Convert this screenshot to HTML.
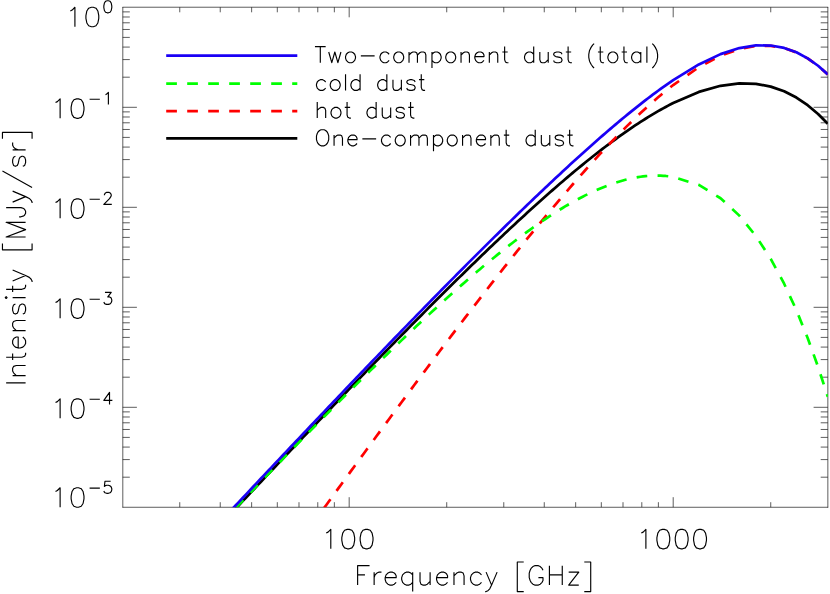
<!DOCTYPE html>
<html><head><meta charset="utf-8"><title>Dust SED</title>
<style>html,body{margin:0;padding:0;background:#fff;font-family:"Liberation Sans",sans-serif}svg{display:block}</style></head>
<body>
<svg width="830" height="594" viewBox="0 0 830 594">
<rect width="830" height="594" fill="#fff"/>
<defs><clipPath id="c"><rect x="122.70" y="7.30" width="705.10" height="499.90"/></clipPath></defs>
<path d="M122.81 7.00 V507.55 M827.85 7.00 V507.55 M122.50 7.23 H828.15 M122.50 507.28 H828.15 M179.76 507.20 v-5.00 M179.76 7.30 v5.00 M220.24 507.20 v-5.00 M220.24 7.30 v5.00 M251.64 507.20 v-5.00 M251.64 7.30 v5.00 M277.30 507.20 v-5.00 M277.30 7.30 v5.00 M298.99 507.20 v-5.00 M298.99 7.30 v5.00 M317.78 507.20 v-5.00 M317.78 7.30 v5.00 M334.35 507.20 v-5.00 M334.35 7.30 v5.00 M349.18 507.20 v-10.00 M349.18 7.30 v10.00 M446.72 507.20 v-5.00 M446.72 7.30 v5.00 M503.78 507.20 v-5.00 M503.78 7.30 v5.00 M544.26 507.20 v-5.00 M544.26 7.30 v5.00 M575.66 507.20 v-5.00 M575.66 7.30 v5.00 M601.32 507.20 v-5.00 M601.32 7.30 v5.00 M623.01 507.20 v-5.00 M623.01 7.30 v5.00 M641.80 507.20 v-5.00 M641.80 7.30 v5.00 M658.38 507.20 v-5.00 M658.38 7.30 v5.00 M673.20 507.20 v-10.00 M673.20 7.30 v10.00 M770.74 507.20 v-5.00 M770.74 7.30 v5.00 M122.70 477.20 h7.10 M827.80 477.20 h-7.10 M122.70 459.59 h7.10 M827.80 459.59 h-7.10 M122.70 447.09 h7.10 M827.80 447.09 h-7.10 M122.70 437.40 h7.10 M827.80 437.40 h-7.10 M122.70 429.48 h7.10 M827.80 429.48 h-7.10 M122.70 422.79 h7.10 M827.80 422.79 h-7.10 M122.70 416.99 h7.10 M827.80 416.99 h-7.10 M122.70 411.88 h7.10 M827.80 411.88 h-7.10 M122.70 407.30 h14.20 M827.80 407.30 h-14.20 M122.70 377.20 h7.10 M827.80 377.20 h-7.10 M122.70 359.59 h7.10 M827.80 359.59 h-7.10 M122.70 347.09 h7.10 M827.80 347.09 h-7.10 M122.70 337.40 h7.10 M827.80 337.40 h-7.10 M122.70 329.48 h7.10 M827.80 329.48 h-7.10 M122.70 322.79 h7.10 M827.80 322.79 h-7.10 M122.70 316.99 h7.10 M827.80 316.99 h-7.10 M122.70 311.88 h7.10 M827.80 311.88 h-7.10 M122.70 307.30 h14.20 M827.80 307.30 h-14.20 M122.70 277.20 h7.10 M827.80 277.20 h-7.10 M122.70 259.59 h7.10 M827.80 259.59 h-7.10 M122.70 247.09 h7.10 M827.80 247.09 h-7.10 M122.70 237.40 h7.10 M827.80 237.40 h-7.10 M122.70 229.48 h7.10 M827.80 229.48 h-7.10 M122.70 222.79 h7.10 M827.80 222.79 h-7.10 M122.70 216.99 h7.10 M827.80 216.99 h-7.10 M122.70 211.88 h7.10 M827.80 211.88 h-7.10 M122.70 207.30 h14.20 M827.80 207.30 h-14.20 M122.70 177.20 h7.10 M827.80 177.20 h-7.10 M122.70 159.59 h7.10 M827.80 159.59 h-7.10 M122.70 147.09 h7.10 M827.80 147.09 h-7.10 M122.70 137.40 h7.10 M827.80 137.40 h-7.10 M122.70 129.48 h7.10 M827.80 129.48 h-7.10 M122.70 122.79 h7.10 M827.80 122.79 h-7.10 M122.70 116.99 h7.10 M827.80 116.99 h-7.10 M122.70 111.88 h7.10 M827.80 111.88 h-7.10 M122.70 107.30 h14.20 M827.80 107.30 h-14.20 M122.70 77.20 h7.10 M827.80 77.20 h-7.10 M122.70 59.59 h7.10 M827.80 59.59 h-7.10 M122.70 47.09 h7.10 M827.80 47.09 h-7.10 M122.70 37.40 h7.10 M827.80 37.40 h-7.10 M122.70 29.48 h7.10 M827.80 29.48 h-7.10 M122.70 22.79 h7.10 M827.80 22.79 h-7.10 M122.70 16.99 h7.10 M827.80 16.99 h-7.10 M122.70 11.88 h7.10 M827.80 11.88 h-7.10" fill="none" stroke="#000" stroke-width="0.64"/>
<g clip-path="url(#c)" fill="none" stroke-linejoin="round">
<path d="M122.70 629.36 L125.21 626.67 L127.73 623.97 L130.24 621.27 L132.75 618.57 L135.27 615.88 L137.78 613.18 L140.30 610.48 L142.81 607.79 L145.32 605.09 L147.84 602.40 L150.35 599.70 L152.86 597.01 L155.38 594.32 L157.89 591.62 L160.41 588.93 L162.92 586.24 L165.43 583.55 L167.95 580.86 L170.46 578.17 L172.97 575.48 L175.49 572.79 L178.00 570.10 L180.52 567.41 L183.03 564.72 L185.54 562.03 L188.06 559.35 L190.57 556.66 L193.08 553.98 L195.60 551.29 L198.11 548.61 L200.63 545.93 L203.14 543.24 L205.65 540.56 L208.17 537.88 L210.68 535.20 L213.19 532.52 L215.71 529.84 L218.22 527.16 L220.73 524.48 L223.25 521.81 L225.76 519.13 L228.28 516.46 L230.79 513.78 L233.30 511.11 L235.82 508.44 L238.33 505.76 L240.84 503.09 L243.36 500.42 L245.87 497.75 L248.39 495.08 L250.90 492.42 L253.41 489.75 L255.93 487.09 L258.44 484.42 L260.95 481.76 L263.47 479.10 L265.98 476.43 L268.50 473.77 L271.01 471.12 L273.52 468.46 L276.04 465.80 L278.55 463.14 L281.06 460.49 L283.58 457.84 L286.09 455.18 L288.60 452.53 L291.12 449.88 L293.63 447.24 L296.15 444.59 L298.66 441.94 L301.17 439.30 L303.69 436.66 L306.20 434.02 L308.71 431.38 L311.23 428.74 L313.74 426.10 L316.26 423.46 L318.77 420.83 L321.28 418.20 L323.80 415.57 L326.31 412.94 L328.82 410.31 L331.34 407.69 L333.85 405.06 L336.37 402.44 L338.88 399.82 L341.39 397.20 L343.91 394.59 L346.42 391.97 L348.93 389.36 L351.45 386.75 L353.96 384.14 L356.48 381.54 L358.99 378.93 L361.50 376.33 L364.02 373.73 L366.53 371.13 L369.04 368.54 L371.56 365.94 L374.07 363.35 L376.58 360.77 L379.10 358.18 L381.61 355.60 L384.13 353.02 L386.64 350.44 L389.15 347.87 L391.67 345.29 L394.18 342.72 L396.69 340.16 L399.21 337.59 L401.72 335.03 L404.24 332.48 L406.75 329.92 L409.26 327.37 L411.78 324.82 L414.29 322.28 L416.80 319.74 L419.32 317.20 L421.83 314.66 L424.35 312.13 L426.86 309.61 L429.37 307.08 L431.89 304.56 L434.40 302.05 L436.91 299.54 L439.43 297.03 L441.94 294.52 L444.45 292.03 L446.97 289.53 L449.48 287.04 L452.00 284.55 L454.51 282.07 L457.02 279.59 L459.54 277.12 L462.05 274.65 L464.56 272.19 L467.08 269.73 L469.59 267.28 L472.11 264.83 L474.62 262.39 L477.13 259.96 L479.65 257.53 L482.16 255.10 L484.67 252.68 L487.19 250.27 L489.70 247.86 L492.22 245.46 L494.73 243.07 L497.24 240.68 L499.76 238.30 L502.27 235.92 L504.78 233.56 L507.30 231.20 L509.81 228.84 L512.33 226.50 L514.84 224.16 L517.35 221.83 L519.87 219.51 L522.38 217.19 L524.89 214.89 L527.41 212.59 L529.92 210.30 L532.43 208.02 L534.95 205.75 L537.46 203.49 L539.98 201.23 L542.49 198.99 L545.00 196.76 L547.52 194.53 L550.03 192.32 L552.54 190.12 L555.06 187.93 L557.57 185.74 L560.09 183.57 L562.60 181.42 L565.11 179.27 L567.63 177.14 L570.14 175.01 L572.65 172.90 L575.17 170.81 L577.68 168.72 L580.20 166.65 L582.71 164.60 L585.22 162.55 L587.74 160.53 L590.25 158.51 L592.76 156.52 L595.28 154.53 L597.79 152.57 L600.30 150.61 L602.82 148.68 L605.33 146.76 L607.85 144.86 L610.36 142.98 L612.87 141.11 L615.39 139.27 L617.90 137.44 L620.41 135.63 L622.93 133.84 L625.44 132.08 L627.96 130.33 L630.47 128.60 L632.98 126.90 L635.50 125.22 L638.01 123.56 L640.52 121.92 L643.04 120.31 L645.55 118.72 L648.07 117.16 L650.58 115.62 L653.09 114.11 L655.61 112.62 L658.12 111.16 L660.63 109.73 L663.15 108.33 L665.66 106.96 L668.18 105.62 L670.69 104.31 L673.20 103.03 L698.86 91.92 L720.55 85.77 L739.34 83.33 L755.92 83.80 L770.74 86.59 L784.15 91.29 L796.40 97.58 L807.66 105.21 L818.09 113.98 L827.80 123.76" stroke="#000" stroke-width="2.75"/>
<path d="M122.70 789.80 L125.21 786.25 L127.73 782.71 L130.24 779.16 L132.75 775.62 L135.27 772.07 L137.78 768.53 L140.30 764.99 L142.81 761.45 L145.32 757.90 L147.84 754.36 L150.35 750.82 L152.86 747.28 L155.38 743.74 L157.89 740.20 L160.41 736.66 L162.92 733.12 L165.43 729.59 L167.95 726.05 L170.46 722.51 L172.97 718.98 L175.49 715.44 L178.00 711.91 L180.52 708.37 L183.03 704.84 L185.54 701.31 L188.06 697.77 L190.57 694.24 L193.08 690.71 L195.60 687.18 L198.11 683.65 L200.63 680.12 L203.14 676.60 L205.65 673.07 L208.17 669.54 L210.68 666.02 L213.19 662.49 L215.71 658.97 L218.22 655.44 L220.73 651.92 L223.25 648.40 L225.76 644.88 L228.28 641.36 L230.79 637.84 L233.30 634.32 L235.82 630.80 L238.33 627.29 L240.84 623.77 L243.36 620.26 L245.87 616.74 L248.39 613.23 L250.90 609.72 L253.41 606.21 L255.93 602.70 L258.44 599.19 L260.95 595.69 L263.47 592.18 L265.98 588.68 L268.50 585.17 L271.01 581.67 L273.52 578.17 L276.04 574.67 L278.55 571.17 L281.06 567.67 L283.58 564.18 L286.09 560.68 L288.60 557.19 L291.12 553.70 L293.63 550.21 L296.15 546.72 L298.66 543.23 L301.17 539.75 L303.69 536.26 L306.20 532.78 L308.71 529.30 L311.23 525.82 L313.74 522.34 L316.26 518.86 L318.77 515.39 L321.28 511.92 L323.80 508.45 L326.31 504.98 L328.82 501.51 L331.34 498.04 L333.85 494.58 L336.37 491.12 L338.88 487.66 L341.39 484.20 L343.91 480.75 L346.42 477.29 L348.93 473.84 L351.45 470.39 L353.96 466.95 L356.48 463.50 L358.99 460.06 L361.50 456.62 L364.02 453.19 L366.53 449.75 L369.04 446.32 L371.56 442.89 L374.07 439.46 L376.58 436.04 L379.10 432.62 L381.61 429.20 L384.13 425.78 L386.64 422.37 L389.15 418.96 L391.67 415.56 L394.18 412.15 L396.69 408.75 L399.21 405.36 L401.72 401.96 L404.24 398.57 L406.75 395.18 L409.26 391.80 L411.78 388.42 L414.29 385.04 L416.80 381.67 L419.32 378.30 L421.83 374.94 L424.35 371.58 L426.86 368.22 L429.37 364.87 L431.89 361.52 L434.40 358.18 L436.91 354.84 L439.43 351.50 L441.94 348.17 L444.45 344.84 L446.97 341.52 L449.48 338.20 L452.00 334.89 L454.51 331.59 L457.02 328.28 L459.54 324.99 L462.05 321.70 L464.56 318.41 L467.08 315.13 L469.59 311.86 L472.11 308.59 L474.62 305.33 L477.13 302.07 L479.65 298.82 L482.16 295.58 L484.67 292.34 L487.19 289.11 L489.70 285.89 L492.22 282.67 L494.73 279.46 L497.24 276.26 L499.76 273.06 L502.27 269.88 L504.78 266.70 L507.30 263.53 L509.81 260.36 L512.33 257.21 L514.84 254.06 L517.35 250.92 L519.87 247.79 L522.38 244.67 L524.89 241.56 L527.41 238.46 L529.92 235.37 L532.43 232.28 L534.95 229.21 L537.46 226.15 L539.98 223.10 L542.49 220.05 L545.00 217.02 L547.52 214.01 L550.03 211.00 L552.54 208.00 L555.06 205.02 L557.57 202.05 L560.09 199.09 L562.60 196.14 L565.11 193.21 L567.63 190.29 L570.14 187.38 L572.65 184.49 L575.17 181.61 L577.68 178.75 L580.20 175.90 L582.71 173.07 L585.22 170.25 L587.74 167.45 L590.25 164.67 L592.76 161.90 L595.28 159.15 L597.79 156.42 L600.30 153.70 L602.82 151.01 L605.33 148.33 L607.85 145.67 L610.36 143.04 L612.87 140.42 L615.39 137.82 L617.90 135.25 L620.41 132.69 L622.93 130.16 L625.44 127.65 L627.96 125.16 L630.47 122.70 L632.98 120.26 L635.50 117.85 L638.01 115.46 L640.52 113.10 L643.04 110.77 L645.55 108.46 L648.07 106.18 L650.58 103.93 L653.09 101.71 L655.61 99.51 L658.12 97.35 L660.63 95.22 L663.15 93.12 L665.66 91.06 L668.18 89.02 L670.69 87.03 L673.20 85.06 L698.86 67.22 L720.55 55.73 L739.34 49.00 L755.92 45.95 L770.74 45.85 L784.15 48.14 L796.40 52.43 L807.66 58.40 L818.09 65.80 L827.80 74.45" stroke="#f00" stroke-width="2.7" stroke-dasharray="10.7 10.3" stroke-dashoffset="10.5"/>
<path d="M122.70 627.30 L125.21 624.62 L127.73 621.95 L130.24 619.27 L132.75 616.59 L135.27 613.92 L137.78 611.24 L140.30 608.57 L142.81 605.90 L145.32 603.23 L147.84 600.55 L150.35 597.88 L152.86 595.22 L155.38 592.55 L157.89 589.88 L160.41 587.21 L162.92 584.55 L165.43 581.88 L167.95 579.22 L170.46 576.56 L172.97 573.89 L175.49 571.23 L178.00 568.57 L180.52 565.91 L183.03 563.26 L185.54 560.60 L188.06 557.95 L190.57 555.29 L193.08 552.64 L195.60 549.99 L198.11 547.34 L200.63 544.69 L203.14 542.04 L205.65 539.39 L208.17 536.75 L210.68 534.10 L213.19 531.46 L215.71 528.82 L218.22 526.18 L220.73 523.54 L223.25 520.91 L225.76 518.27 L228.28 515.64 L230.79 513.00 L233.30 510.37 L235.82 507.74 L238.33 505.12 L240.84 502.49 L243.36 499.87 L245.87 497.25 L248.39 494.63 L250.90 492.01 L253.41 489.39 L255.93 486.78 L258.44 484.16 L260.95 481.55 L263.47 478.94 L265.98 476.34 L268.50 473.73 L271.01 471.13 L273.52 468.53 L276.04 465.93 L278.55 463.34 L281.06 460.74 L283.58 458.15 L286.09 455.56 L288.60 452.98 L291.12 450.39 L293.63 447.81 L296.15 445.23 L298.66 442.66 L301.17 440.08 L303.69 437.51 L306.20 434.95 L308.71 432.38 L311.23 429.82 L313.74 427.26 L316.26 424.70 L318.77 422.15 L321.28 419.60 L323.80 417.06 L326.31 414.51 L328.82 411.97 L331.34 409.44 L333.85 406.90 L336.37 404.37 L338.88 401.85 L341.39 399.33 L343.91 396.81 L346.42 394.29 L348.93 391.78 L351.45 389.28 L353.96 386.78 L356.48 384.28 L358.99 381.78 L361.50 379.29 L364.02 376.81 L366.53 374.33 L369.04 371.85 L371.56 369.38 L374.07 366.92 L376.58 364.46 L379.10 362.00 L381.61 359.55 L384.13 357.10 L386.64 354.66 L389.15 352.23 L391.67 349.80 L394.18 347.38 L396.69 344.96 L399.21 342.55 L401.72 340.14 L404.24 337.74 L406.75 335.35 L409.26 332.96 L411.78 330.58 L414.29 328.21 L416.80 325.85 L419.32 323.49 L421.83 321.14 L424.35 318.79 L426.86 316.45 L429.37 314.13 L431.89 311.80 L434.40 309.49 L436.91 307.19 L439.43 304.89 L441.94 302.60 L444.45 300.32 L446.97 298.05 L449.48 295.79 L452.00 293.54 L454.51 291.30 L457.02 289.07 L459.54 286.85 L462.05 284.63 L464.56 282.43 L467.08 280.24 L469.59 278.06 L472.11 275.90 L474.62 273.74 L477.13 271.59 L479.65 269.46 L482.16 267.34 L484.67 265.23 L487.19 263.14 L489.70 261.05 L492.22 258.99 L494.73 256.93 L497.24 254.89 L499.76 252.86 L502.27 250.85 L504.78 248.85 L507.30 246.87 L509.81 244.91 L512.33 242.96 L514.84 241.02 L517.35 239.11 L519.87 237.21 L522.38 235.33 L524.89 233.46 L527.41 231.62 L529.92 229.79 L532.43 227.98 L534.95 226.20 L537.46 224.43 L539.98 222.69 L542.49 220.96 L545.00 219.26 L547.52 217.58 L550.03 215.92 L552.54 214.28 L555.06 212.67 L557.57 211.08 L560.09 209.52 L562.60 207.99 L565.11 206.47 L567.63 204.99 L570.14 203.53 L572.65 202.11 L575.17 200.71 L577.68 199.33 L580.20 197.99 L582.71 196.68 L585.22 195.40 L587.74 194.16 L590.25 192.94 L592.76 191.76 L595.28 190.61 L597.79 189.50 L600.30 188.42 L602.82 187.38 L605.33 186.38 L607.85 185.42 L610.36 184.49 L612.87 183.61 L615.39 182.76 L617.90 181.96 L620.41 181.20 L622.93 180.48 L625.44 179.81 L627.96 179.19 L630.47 178.61 L632.98 178.08 L635.50 177.59 L638.01 177.16 L640.52 176.77 L643.04 176.44 L645.55 176.16 L648.07 175.94 L650.58 175.77 L653.09 175.66 L655.61 175.60 L658.12 175.60 L660.63 175.66 L663.15 175.79 L665.66 175.97 L668.18 176.22 L670.69 176.54 L673.20 176.92 L698.86 184.90 L720.55 198.27 L739.34 215.63 L755.92 236.05 L770.74 258.90 L784.15 283.72 L796.40 310.15 L807.66 337.95 L818.09 366.91 L827.80 396.87" stroke="#0f0" stroke-width="2.7" stroke-dasharray="10.7 10.3" stroke-dashoffset="3.4"/>
<path d="M122.70 626.28 L125.21 623.59 L127.73 620.89 L130.24 618.19 L132.75 615.49 L135.27 612.80 L137.78 610.10 L140.30 607.40 L142.81 604.71 L145.32 602.01 L147.84 599.31 L150.35 596.62 L152.86 593.92 L155.38 591.23 L157.89 588.54 L160.41 585.84 L162.92 583.15 L165.43 580.46 L167.95 577.77 L170.46 575.07 L172.97 572.38 L175.49 569.69 L178.00 567.00 L180.52 564.31 L183.03 561.62 L185.54 558.93 L188.06 556.24 L190.57 553.56 L193.08 550.87 L195.60 548.18 L198.11 545.49 L200.63 542.81 L203.14 540.12 L205.65 537.44 L208.17 534.75 L210.68 532.07 L213.19 529.39 L215.71 526.70 L218.22 524.02 L220.73 521.34 L223.25 518.66 L225.76 515.98 L228.28 513.30 L230.79 510.62 L233.30 507.94 L235.82 505.26 L238.33 502.59 L240.84 499.91 L243.36 497.23 L245.87 494.56 L248.39 491.88 L250.90 489.21 L253.41 486.54 L255.93 483.87 L258.44 481.19 L260.95 478.52 L263.47 475.85 L265.98 473.19 L268.50 470.52 L271.01 467.85 L273.52 465.18 L276.04 462.52 L278.55 459.85 L281.06 457.19 L283.58 454.53 L286.09 451.86 L288.60 449.20 L291.12 446.54 L293.63 443.88 L296.15 441.23 L298.66 438.57 L301.17 435.91 L303.69 433.26 L306.20 430.60 L308.71 427.95 L311.23 425.30 L313.74 422.65 L316.26 420.00 L318.77 417.35 L321.28 414.70 L323.80 412.06 L326.31 409.41 L328.82 406.77 L331.34 404.13 L333.85 401.49 L336.37 398.85 L338.88 396.21 L341.39 393.57 L343.91 390.94 L346.42 388.30 L348.93 385.67 L351.45 383.04 L353.96 380.41 L356.48 377.78 L358.99 375.16 L361.50 372.53 L364.02 369.91 L366.53 367.28 L369.04 364.66 L371.56 362.05 L374.07 359.43 L376.58 356.81 L379.10 354.20 L381.61 351.59 L384.13 348.98 L386.64 346.37 L389.15 343.77 L391.67 341.16 L394.18 338.56 L396.69 335.96 L399.21 333.36 L401.72 330.77 L404.24 328.18 L406.75 325.58 L409.26 323.00 L411.78 320.41 L414.29 317.82 L416.80 315.24 L419.32 312.66 L421.83 310.09 L424.35 307.51 L426.86 304.94 L429.37 302.37 L431.89 299.80 L434.40 297.24 L436.91 294.68 L439.43 292.12 L441.94 289.56 L444.45 287.01 L446.97 284.46 L449.48 281.91 L452.00 279.37 L454.51 276.83 L457.02 274.29 L459.54 271.76 L462.05 269.22 L464.56 266.70 L467.08 264.17 L469.59 261.65 L472.11 259.13 L474.62 256.62 L477.13 254.11 L479.65 251.60 L482.16 249.10 L484.67 246.60 L487.19 244.11 L489.70 241.62 L492.22 239.13 L494.73 236.65 L497.24 234.17 L499.76 231.70 L502.27 229.23 L504.78 226.76 L507.30 224.30 L509.81 221.85 L512.33 219.40 L514.84 216.95 L517.35 214.51 L519.87 212.08 L522.38 209.64 L524.89 207.22 L527.41 204.80 L529.92 202.39 L532.43 199.98 L534.95 197.57 L537.46 195.18 L539.98 192.79 L542.49 190.40 L545.00 188.02 L547.52 185.65 L550.03 183.29 L552.54 180.93 L555.06 178.57 L557.57 176.23 L560.09 173.89 L562.60 171.56 L565.11 169.23 L567.63 166.92 L570.14 164.61 L572.65 162.31 L575.17 160.02 L577.68 157.73 L580.20 155.46 L582.71 153.19 L585.22 150.93 L587.74 148.68 L590.25 146.44 L592.76 144.21 L595.28 141.99 L597.79 139.78 L600.30 137.58 L602.82 135.39 L605.33 133.21 L607.85 131.05 L610.36 128.89 L612.87 126.75 L615.39 124.62 L617.90 122.50 L620.41 120.40 L622.93 118.30 L625.44 116.23 L627.96 114.16 L630.47 112.12 L632.98 110.08 L635.50 108.07 L638.01 106.07 L640.52 104.08 L643.04 102.12 L645.55 100.17 L648.07 98.24 L650.58 96.33 L653.09 94.44 L655.61 92.57 L658.12 90.72 L660.63 88.89 L663.15 87.09 L665.66 85.31 L668.18 83.55 L670.69 81.82 L673.20 80.12 L698.86 64.42 L720.55 54.13 L739.34 48.07 L755.92 45.41 L770.74 45.53 L784.15 47.95 L796.40 52.31 L807.66 58.33 L818.09 65.76 L827.80 74.42" stroke="#1a00f5" stroke-width="2.7"/>
</g>
<g fill="none">
<path d="M166.2 55.7 H297.3" stroke="#1a00f5" stroke-width="2.7"/>
<path d="M166.2 83.7 H297.3" stroke="#0f0" stroke-width="2.7" stroke-dasharray="10.7 10.3"/>
<path d="M166.2 111.2 H297.3" stroke="#f00" stroke-width="2.7" stroke-dasharray="10.7 10.3"/>
<path d="M166.2 138.4 H297.3" stroke="#000" stroke-width="2.8"/>
</g>
<path d="M320.30 62.70 L320.30 46.61 M314.95 46.61 L325.66 46.61 M328.72 51.98 L331.78 62.70 L334.83 51.98 L337.89 62.70 L340.95 51.98 M345.54 58.10 L346.31 60.40 L347.84 61.93 L349.37 62.70 L351.66 62.70 L353.19 61.93 L354.72 60.40 L355.49 58.10 L355.49 56.57 L354.72 54.27 L353.19 52.74 L351.66 51.98 L349.37 51.98 L347.84 52.74 L346.31 54.27 L345.54 56.57Z M360.84 55.81 L374.61 55.81 M389.14 60.40 L387.61 61.93 L386.08 62.70 L383.79 62.70 L382.26 61.93 L380.73 60.40 L379.96 58.10 L379.96 56.57 L380.73 54.27 L382.26 52.74 L383.79 51.98 L386.08 51.98 L387.61 52.74 L389.14 54.27 M393.73 58.10 L394.49 60.40 L396.02 61.93 L397.55 62.70 L399.85 62.70 L401.38 61.93 L402.91 60.40 L403.67 58.10 L403.67 56.57 L402.91 54.27 L401.38 52.74 L399.85 51.98 L397.55 51.98 L396.02 52.74 L394.49 54.27 L393.73 56.57Z M409.03 62.70 L409.03 51.98 M417.44 62.70 L417.44 55.04 M425.85 62.70 L425.85 55.04 L425.09 52.74 L423.56 51.98 L421.26 51.98 L419.73 52.74 L417.44 55.04 M409.03 55.04 L411.32 52.74 L412.85 51.98 L415.14 51.98 L416.67 52.74 L417.44 55.04 M431.97 68.06 L431.97 51.98 M431.97 60.40 L433.50 61.93 L435.03 62.70 L437.33 62.70 L438.85 61.93 L440.38 60.40 L441.15 58.10 L441.15 56.57 L440.38 54.27 L438.85 52.74 L437.33 51.98 L435.03 51.98 L433.50 52.74 L431.97 54.27 M445.74 58.10 L446.50 60.40 L448.03 61.93 L449.56 62.70 L451.86 62.70 L453.39 61.93 L454.92 60.40 L455.68 58.10 L455.68 56.57 L454.92 54.27 L453.39 52.74 L451.86 51.98 L449.56 51.98 L448.03 52.74 L446.50 54.27 L445.74 56.57Z M461.04 62.70 L461.04 51.98 M469.45 62.70 L469.45 55.04 L468.68 52.74 L467.15 51.98 L464.86 51.98 L463.33 52.74 L461.04 55.04 M483.98 60.40 L482.45 61.93 L480.92 62.70 L478.63 62.70 L477.10 61.93 L475.57 60.40 L474.80 58.10 L474.80 56.57 M474.80 56.57 L483.98 56.57 L483.98 55.04 L483.22 53.51 L482.45 52.74 L480.92 51.98 L478.63 51.98 L477.10 52.74 L475.57 54.27Z M489.33 62.70 L489.33 51.98 M497.75 62.70 L497.75 55.04 L496.98 52.74 L495.45 51.98 L493.16 51.98 L491.63 52.74 L489.33 55.04 M504.63 46.61 L504.63 59.64 L505.40 61.93 L506.93 62.70 L508.46 62.70 M502.34 51.98 L507.69 51.98 M533.70 62.70 L533.70 46.61 M533.70 60.40 L532.17 61.93 L530.64 62.70 L528.34 62.70 L526.81 61.93 L525.28 60.40 L524.52 58.10 L524.52 56.57 L525.28 54.27 L526.81 52.74 L528.34 51.98 L530.64 51.98 L532.17 52.74 L533.70 54.27 M548.23 62.70 L548.23 51.98 M539.82 51.98 L539.82 59.64 L540.58 61.93 L542.11 62.70 L544.40 62.70 L545.93 61.93 L548.23 59.64 M553.58 60.40 L554.35 61.93 L556.64 62.70 L558.94 62.70 L561.23 61.93 L562.00 60.40 L562.00 59.64 L561.23 58.10 L559.70 57.34 L555.88 56.57 L554.35 55.81 L553.58 54.27 L554.35 52.74 L556.64 51.98 L558.94 51.98 L561.23 52.74 L562.00 54.27 M568.11 46.61 L568.11 59.64 L568.88 61.93 L570.41 62.70 L571.94 62.70 M565.82 51.98 L571.17 51.98 M594.12 68.06 L592.59 66.53 L591.06 64.23 L589.53 61.17 L588.77 57.34 L588.77 54.27 L589.53 50.44 L591.06 47.38 L592.59 45.08 L594.12 43.55 M600.24 46.61 L600.24 59.64 L601.00 61.93 L602.53 62.70 L604.06 62.70 M597.94 51.98 L603.30 51.98 M607.89 58.10 L608.65 60.40 L610.18 61.93 L611.71 62.70 L614.01 62.70 L615.54 61.93 L617.06 60.40 L617.83 58.10 L617.83 56.57 L617.06 54.27 L615.54 52.74 L614.01 51.98 L611.71 51.98 L610.18 52.74 L608.65 54.27 L607.89 56.57Z M623.95 46.61 L623.95 59.64 L624.71 61.93 L626.24 62.70 L627.77 62.70 M621.65 51.98 L627.01 51.98 M640.78 62.70 L640.78 51.98 M640.78 60.40 L639.25 61.93 L637.72 62.70 L635.42 62.70 L633.89 61.93 L632.36 60.40 L631.60 58.10 L631.60 56.57 L632.36 54.27 L633.89 52.74 L635.42 51.98 L637.72 51.98 L639.25 52.74 L640.78 54.27 M646.89 62.70 L646.89 46.61 M652.25 68.06 L653.78 66.53 L655.31 64.23 L656.84 61.17 L657.60 57.34 L657.60 54.27 L656.84 50.44 L655.31 47.38 L653.78 45.08 L652.25 43.55 M325.66 88.10 L324.13 89.63 L322.60 90.40 L320.30 90.40 L318.77 89.63 L317.24 88.10 L316.48 85.80 L316.48 84.27 L317.24 81.97 L318.77 80.44 L320.30 79.68 L322.60 79.68 L324.13 80.44 L325.66 81.97 M330.25 85.80 L331.01 88.10 L332.54 89.63 L334.07 90.40 L336.36 90.40 L337.89 89.63 L339.42 88.10 L340.19 85.80 L340.19 84.27 L339.42 81.97 L337.89 80.44 L336.36 79.68 L334.07 79.68 L332.54 80.44 L331.01 81.97 L330.25 84.27Z M345.54 90.40 L345.54 74.31 M360.08 90.40 L360.08 74.31 M360.08 88.10 L358.55 89.63 L357.02 90.40 L354.72 90.40 L353.19 89.63 L351.66 88.10 L350.90 85.80 L350.90 84.27 L351.66 81.97 L353.19 80.44 L354.72 79.68 L357.02 79.68 L358.55 80.44 L360.08 81.97 M386.84 90.40 L386.84 74.31 M386.84 88.10 L385.32 89.63 L383.79 90.40 L381.49 90.40 L379.96 89.63 L378.43 88.10 L377.67 85.80 L377.67 84.27 L378.43 81.97 L379.96 80.44 L381.49 79.68 L383.79 79.68 L385.32 80.44 L386.84 81.97 M401.38 90.40 L401.38 79.68 M392.96 79.68 L392.96 87.34 L393.73 89.63 L395.26 90.40 L397.55 90.40 L399.08 89.63 L401.38 87.34 M406.73 88.10 L407.50 89.63 L409.79 90.40 L412.08 90.40 L414.38 89.63 L415.14 88.10 L415.14 87.34 L414.38 85.80 L412.85 85.04 L409.03 84.27 L407.50 83.51 L406.73 81.97 L407.50 80.44 L409.79 79.68 L412.08 79.68 L414.38 80.44 L415.14 81.97 M421.26 74.31 L421.26 87.34 L422.03 89.63 L423.56 90.40 L425.09 90.40 M418.97 79.68 L424.32 79.68 M317.24 118.10 L317.24 102.01 M325.66 118.10 L325.66 110.44 L324.89 108.14 L323.36 107.38 L321.07 107.38 L319.54 108.14 L317.24 110.44 M331.01 113.50 L331.78 115.80 L333.31 117.33 L334.83 118.10 L337.13 118.10 L338.66 117.33 L340.19 115.80 L340.95 113.50 L340.95 111.97 L340.19 109.67 L338.66 108.14 L337.13 107.38 L334.83 107.38 L333.31 108.14 L331.78 109.67 L331.01 111.97Z M347.07 102.01 L347.07 115.04 L347.84 117.33 L349.37 118.10 L350.90 118.10 M344.78 107.38 L350.13 107.38 M376.14 118.10 L376.14 102.01 M376.14 115.80 L374.61 117.33 L373.08 118.10 L370.78 118.10 L369.25 117.33 L367.72 115.80 L366.96 113.50 L366.96 111.97 L367.72 109.67 L369.25 108.14 L370.78 107.38 L373.08 107.38 L374.61 108.14 L376.14 109.67 M390.67 118.10 L390.67 107.38 M382.26 107.38 L382.26 115.04 L383.02 117.33 L384.55 118.10 L386.84 118.10 L388.37 117.33 L390.67 115.04 M396.02 115.80 L396.79 117.33 L399.08 118.10 L401.38 118.10 L403.67 117.33 L404.44 115.80 L404.44 115.04 L403.67 113.50 L402.14 112.74 L398.32 111.97 L396.79 111.21 L396.02 109.67 L396.79 108.14 L399.08 107.38 L401.38 107.38 L403.67 108.14 L404.44 109.67 M410.56 102.01 L410.56 115.04 L411.32 117.33 L412.85 118.10 L414.38 118.10 M408.26 107.38 L413.61 107.38 M316.48 139.67 L316.48 135.84 L317.24 133.54 L318.01 132.01 L319.54 130.48 L321.07 129.71 L324.13 129.71 L325.66 130.48 L327.19 132.01 L327.95 133.54 L328.72 135.84 L328.72 139.67 L327.95 141.97 L327.19 143.50 L325.66 145.03 L324.13 145.80 L321.07 145.80 L319.54 145.03 L318.01 143.50 L317.24 141.97Z M334.07 145.80 L334.07 135.08 M342.48 145.80 L342.48 138.14 L341.72 135.84 L340.19 135.08 L337.89 135.08 L336.36 135.84 L334.07 138.14 M357.02 143.50 L355.49 145.03 L353.96 145.80 L351.66 145.80 L350.13 145.03 L348.60 143.50 L347.84 141.20 L347.84 139.67 M347.84 139.67 L357.02 139.67 L357.02 138.14 L356.25 136.61 L355.49 135.84 L353.96 135.08 L351.66 135.08 L350.13 135.84 L348.60 137.37Z M362.37 138.91 L376.14 138.91 M390.67 143.50 L389.14 145.03 L387.61 145.80 L385.32 145.80 L383.79 145.03 L382.26 143.50 L381.49 141.20 L381.49 139.67 L382.26 137.37 L383.79 135.84 L385.32 135.08 L387.61 135.08 L389.14 135.84 L390.67 137.37 M395.26 141.20 L396.02 143.50 L397.55 145.03 L399.08 145.80 L401.38 145.80 L402.91 145.03 L404.44 143.50 L405.20 141.20 L405.20 139.67 L404.44 137.37 L402.91 135.84 L401.38 135.08 L399.08 135.08 L397.55 135.84 L396.02 137.37 L395.26 139.67Z M410.56 145.80 L410.56 135.08 M418.97 145.80 L418.97 138.14 M427.38 145.80 L427.38 138.14 L426.62 135.84 L425.09 135.08 L422.79 135.08 L421.26 135.84 L418.97 138.14 M410.56 138.14 L412.85 135.84 L414.38 135.08 L416.67 135.08 L418.20 135.84 L418.97 138.14 M433.50 151.16 L433.50 135.08 M433.50 143.50 L435.03 145.03 L436.56 145.80 L438.85 145.80 L440.38 145.03 L441.91 143.50 L442.68 141.20 L442.68 139.67 L441.91 137.37 L440.38 135.84 L438.85 135.08 L436.56 135.08 L435.03 135.84 L433.50 137.37 M447.27 141.20 L448.03 143.50 L449.56 145.03 L451.09 145.80 L453.39 145.80 L454.92 145.03 L456.45 143.50 L457.21 141.20 L457.21 139.67 L456.45 137.37 L454.92 135.84 L453.39 135.08 L451.09 135.08 L449.56 135.84 L448.03 137.37 L447.27 139.67Z M462.57 145.80 L462.57 135.08 M470.98 145.80 L470.98 138.14 L470.21 135.84 L468.68 135.08 L466.39 135.08 L464.86 135.84 L462.57 138.14 M485.51 143.50 L483.98 145.03 L482.45 145.80 L480.16 145.80 L478.63 145.03 L477.10 143.50 L476.33 141.20 L476.33 139.67 M476.33 139.67 L485.51 139.67 L485.51 138.14 L484.75 136.61 L483.98 135.84 L482.45 135.08 L480.16 135.08 L478.63 135.84 L477.10 137.37Z M490.86 145.80 L490.86 135.08 M499.28 145.80 L499.28 138.14 L498.51 135.84 L496.98 135.08 L494.69 135.08 L493.16 135.84 L490.86 138.14 M506.16 129.71 L506.16 142.74 L506.93 145.03 L508.46 145.80 L509.99 145.80 M503.87 135.08 L509.22 135.08 M535.23 145.80 L535.23 129.71 M535.23 143.50 L533.70 145.03 L532.17 145.80 L529.87 145.80 L528.34 145.03 L526.81 143.50 L526.05 141.20 L526.05 139.67 L526.81 137.37 L528.34 135.84 L529.87 135.08 L532.17 135.08 L533.70 135.84 L535.23 137.37 M549.76 145.80 L549.76 135.08 M541.34 135.08 L541.34 142.74 L542.11 145.03 L543.64 145.80 L545.93 145.80 L547.46 145.03 L549.76 142.74 M555.11 143.50 L555.88 145.03 L558.17 145.80 L560.47 145.80 L562.76 145.03 L563.53 143.50 L563.53 142.74 L562.76 141.20 L561.23 140.44 L557.41 139.67 L555.88 138.91 L555.11 137.37 L555.88 135.84 L558.17 135.08 L560.47 135.08 L562.76 135.84 L563.53 137.37 M569.64 129.71 L569.64 142.74 L570.41 145.03 L571.94 145.80 L573.47 145.80 M567.35 135.08 L572.70 135.08 M330.79 548.80 L330.79 529.35 L328.04 532.13 L326.21 533.06 M341.81 540.47 L342.72 545.10 L344.56 547.87 L347.31 548.80 L349.15 548.80 L351.90 547.87 L353.74 545.10 L354.65 540.47 L354.65 537.69 L353.74 533.06 L351.90 530.28 L349.15 529.35 L347.31 529.35 L344.56 530.28 L342.72 533.06 L341.81 537.69Z M360.16 540.47 L361.08 545.10 L362.91 547.87 L365.67 548.80 L367.50 548.80 L370.25 547.87 L372.09 545.10 L373.01 540.47 L373.01 537.69 L372.09 533.06 L370.25 530.28 L367.50 529.35 L365.67 529.35 L362.91 530.28 L361.08 533.06 L360.16 537.69Z M645.89 548.80 L645.89 529.35 L643.14 532.13 L641.30 533.06 M656.90 540.47 L657.82 545.10 L659.66 547.87 L662.41 548.80 L664.24 548.80 L667.00 547.87 L668.83 545.10 L669.75 540.47 L669.75 537.69 L668.83 533.06 L667.00 530.28 L664.24 529.35 L662.41 529.35 L659.66 530.28 L657.82 533.06 L656.90 537.69Z M675.26 540.47 L676.17 545.10 L678.01 547.87 L680.76 548.80 L682.60 548.80 L685.35 547.87 L687.19 545.10 L688.10 540.47 L688.10 537.69 L687.19 533.06 L685.35 530.28 L682.60 529.35 L680.76 529.35 L678.01 530.28 L676.17 533.06 L675.26 537.69Z M693.61 540.47 L694.53 545.10 L696.36 547.87 L699.11 548.80 L700.95 548.80 L703.70 547.87 L705.54 545.10 L706.46 540.47 L706.46 537.69 L705.54 533.06 L703.70 530.28 L700.95 529.35 L699.11 529.35 L696.36 530.28 L694.53 533.06 L693.61 537.69Z M357.62 585.10 L357.62 565.65 L369.55 565.65 M357.62 574.91 L364.96 574.91 M374.14 585.10 L374.14 572.14 M374.14 577.69 L375.06 574.91 L376.89 573.06 L378.73 572.14 L381.48 572.14 M396.16 582.32 L394.33 584.17 L392.49 585.10 L389.74 585.10 L387.90 584.17 L386.07 582.32 L385.15 579.54 L385.15 577.69 M385.15 577.69 L396.16 577.69 L396.16 575.84 L395.24 573.99 L394.33 573.06 L392.49 572.14 L389.74 572.14 L387.90 573.06 L386.07 574.91Z M412.68 591.58 L412.68 572.14 M412.68 582.32 L410.85 584.17 L409.01 585.10 L406.26 585.10 L404.42 584.17 L402.59 582.32 L401.67 579.54 L401.67 577.69 L402.59 574.91 L404.42 573.06 L406.26 572.14 L409.01 572.14 L410.85 573.06 L412.68 574.91 M430.12 585.10 L430.12 572.14 M420.02 572.14 L420.02 581.40 L420.94 584.17 L422.77 585.10 L425.53 585.10 L427.36 584.17 L430.12 581.40 M447.55 582.32 L445.72 584.17 L443.88 585.10 L441.13 585.10 L439.29 584.17 L437.46 582.32 L436.54 579.54 L436.54 577.69 M436.54 577.69 L447.55 577.69 L447.55 575.84 L446.63 573.99 L445.72 573.06 L443.88 572.14 L441.13 572.14 L439.29 573.06 L437.46 574.91Z M453.98 585.10 L453.98 572.14 M464.07 585.10 L464.07 575.84 L463.15 573.06 L461.32 572.14 L458.56 572.14 L456.73 573.06 L453.98 575.84 M481.51 582.32 L479.67 584.17 L477.83 585.10 L475.08 585.10 L473.25 584.17 L471.41 582.32 L470.49 579.54 L470.49 577.69 L471.41 574.91 L473.25 573.06 L475.08 572.14 L477.83 572.14 L479.67 573.06 L481.51 574.91 M486.09 572.14 L491.60 585.10 M497.11 572.14 L491.60 585.10 M485.18 591.58 L486.09 591.58 L487.93 590.66 L489.76 588.80 L491.60 585.10 M523.72 591.58 L517.29 591.58 L517.29 561.95 L523.72 561.95 M538.40 577.69 L542.99 577.69 L542.99 580.47 L542.07 582.32 L540.24 584.17 L538.40 585.10 L534.73 585.10 L532.89 584.17 L531.06 582.32 L530.14 580.47 L529.22 577.69 L529.22 573.06 L530.14 570.28 L531.06 568.43 L532.89 566.58 L534.73 565.65 L538.40 565.65 L540.24 566.58 L542.07 568.43 L542.99 570.28 M549.41 585.10 L549.41 565.65 M562.26 585.10 L562.26 565.65 M549.41 574.91 L562.26 574.91 M578.78 585.10 L568.68 585.10 L578.78 572.14 L568.68 572.14 M584.28 591.58 L590.71 591.58 L590.71 561.95 L584.28 561.95 M25.60 382.91 L6.15 382.91 M25.60 375.57 L12.64 375.57 M25.60 365.48 L16.34 365.48 L13.56 366.39 L12.64 368.23 L12.64 370.98 L13.56 372.82 L16.34 375.57 M6.15 357.22 L21.90 357.22 L24.67 356.30 L25.60 354.46 L25.60 352.63 M12.64 359.97 L12.64 353.55 M22.82 337.03 L24.67 338.86 L25.60 340.70 L25.60 343.45 L24.67 345.29 L22.82 347.12 L20.04 348.04 L18.19 348.04 M18.19 348.04 L18.19 337.03 L16.34 337.03 L14.49 337.95 L13.56 338.86 L12.64 340.70 L12.64 343.45 L13.56 345.29 L15.41 347.12Z M25.60 330.60 L12.64 330.60 M25.60 320.51 L16.34 320.51 L13.56 321.43 L12.64 323.26 L12.64 326.02 L13.56 327.85 L16.34 330.60 M22.82 314.09 L24.67 313.17 L25.60 310.42 L25.60 307.66 L24.67 304.91 L22.82 303.99 L21.90 303.99 L20.04 304.91 L19.12 306.75 L18.19 311.33 L17.27 313.17 L15.41 314.09 L13.56 313.17 L12.64 310.42 L12.64 307.66 L13.56 304.91 L15.41 303.99 M25.60 297.57 L12.64 297.57 M6.15 298.49 L7.08 297.57 L6.15 296.65 L5.23 297.57Z M6.15 289.31 L21.90 289.31 L24.67 288.39 L25.60 286.56 L25.60 284.72 M12.64 292.06 L12.64 285.64 M12.64 281.05 L25.60 275.54 M12.64 270.04 L25.60 275.54 M32.08 281.97 L32.08 281.05 L31.16 279.22 L29.30 277.38 L25.60 275.54 M32.08 243.43 L32.08 249.85 L2.45 249.85 L2.45 243.43 M25.60 237.00 L6.15 237.00 L25.60 229.66 L6.15 222.32 L25.60 222.32 M6.15 207.64 L20.97 207.64 L23.75 208.55 L24.67 209.47 L25.60 211.31 L25.60 213.14 L24.67 214.98 L23.75 215.90 L20.97 216.81 L19.12 216.81 M12.64 202.13 L25.60 196.63 M12.64 191.12 L25.60 196.63 M32.08 203.05 L32.08 202.13 L31.16 200.30 L29.30 198.46 L25.60 196.63 M32.08 187.45 L2.45 170.93 M22.82 166.34 L24.67 165.42 L25.60 162.67 L25.60 159.92 L24.67 157.17 L22.82 156.25 L21.90 156.25 L20.04 157.17 L19.12 159.00 L18.19 163.59 L17.27 165.42 L15.41 166.34 L13.56 165.42 L12.64 162.67 L12.64 159.92 L13.56 157.17 L15.41 156.25 M25.60 149.82 L12.64 149.82 M18.19 149.82 L15.41 148.91 L13.56 147.07 L12.64 145.24 L12.64 142.48 M32.08 138.81 L32.08 132.39 L2.45 132.39 L2.45 138.81 M74.91 26.70 L74.91 7.25 L72.16 10.03 L70.32 10.96 M85.92 18.37 L86.84 23.00 L88.67 25.77 L91.43 26.70 L93.26 26.70 L96.01 25.77 L97.85 23.00 L98.77 18.37 L98.77 15.59 L97.85 10.96 L96.01 8.18 L93.26 7.25 L91.43 7.25 L88.67 8.18 L86.84 10.96 L85.92 15.59Z M103.83 7.63 L104.40 10.50 L105.53 12.23 L107.24 12.80 L108.38 12.80 L110.09 12.23 L111.22 10.50 L111.79 7.63 L111.79 5.91 L111.22 3.04 L110.09 1.32 L108.38 0.74 L107.24 0.74 L105.53 1.32 L104.40 3.04 L103.83 5.91Z M60.12 118.30 L60.12 98.85 L57.36 101.63 L55.53 102.56 M71.13 109.97 L72.05 114.60 L73.88 117.37 L76.63 118.30 L78.47 118.30 L81.22 117.37 L83.06 114.60 L83.98 109.97 L83.98 107.19 L83.06 102.56 L81.22 99.78 L78.47 98.85 L76.63 98.85 L73.88 99.78 L72.05 102.56 L71.13 107.19Z M89.60 99.23 L99.85 99.23 M108.38 104.40 L108.38 92.34 L106.67 94.07 L105.53 94.64 M60.12 218.30 L60.12 198.85 L57.36 201.63 L55.53 202.56 M71.13 209.97 L72.05 214.60 L73.88 217.37 L76.63 218.30 L78.47 218.30 L81.22 217.37 L83.06 214.60 L83.98 209.97 L83.98 207.19 L83.06 202.56 L81.22 199.78 L78.47 198.85 L76.63 198.85 L73.88 199.78 L72.05 202.56 L71.13 207.19Z M89.60 199.23 L99.85 199.23 M111.79 204.40 L103.83 204.40 L109.52 198.66 L110.66 196.94 L111.22 195.79 L111.22 194.64 L110.66 193.49 L110.09 192.92 L108.95 192.34 L106.67 192.34 L105.53 192.92 L104.97 193.49 L104.40 194.64 L104.40 195.21 M60.12 318.30 L60.12 298.85 L57.36 301.63 L55.53 302.56 M71.13 309.97 L72.05 314.60 L73.88 317.37 L76.63 318.30 L78.47 318.30 L81.22 317.37 L83.06 314.60 L83.98 309.97 L83.98 307.19 L83.06 302.56 L81.22 299.78 L78.47 298.85 L76.63 298.85 L73.88 299.78 L72.05 302.56 L71.13 307.19Z M89.60 299.23 L99.85 299.23 M104.97 292.34 L111.22 292.34 L107.81 296.94 L109.52 296.94 L110.66 297.51 L111.22 298.08 L111.79 299.81 L111.79 300.96 L111.22 302.68 L110.09 303.83 L108.38 304.40 L106.67 304.40 L104.97 303.83 L104.40 303.25 L103.83 302.10 M60.12 418.30 L60.12 398.85 L57.36 401.63 L55.53 402.56 M71.13 409.97 L72.05 414.60 L73.88 417.37 L76.63 418.30 L78.47 418.30 L81.22 417.37 L83.06 414.60 L83.98 409.97 L83.98 407.19 L83.06 402.56 L81.22 399.78 L78.47 398.85 L76.63 398.85 L73.88 399.78 L72.05 402.56 L71.13 407.19Z M89.60 399.23 L99.85 399.23 M109.52 404.40 L109.52 392.34 L103.83 400.38 L112.36 400.38 M60.12 507.20 L60.12 487.75 L57.36 490.53 L55.53 491.46 M71.13 498.87 L72.05 503.50 L73.88 506.27 L76.63 507.20 L78.47 507.20 L81.22 506.27 L83.06 503.50 L83.98 498.87 L83.98 496.09 L83.06 491.46 L81.22 488.68 L78.47 487.75 L76.63 487.75 L73.88 488.68 L72.05 491.46 L71.13 496.09Z M89.60 488.13 L99.85 488.13 M110.66 481.24 L104.97 481.24 L104.40 486.41 L104.97 485.84 L106.67 485.26 L108.38 485.26 L110.09 485.84 L111.22 486.98 L111.79 488.71 L111.79 489.86 L111.22 491.58 L110.09 492.73 L108.38 493.30 L106.67 493.30 L104.97 492.73 L104.40 492.15 L103.83 491.00" fill="none" stroke="#000" stroke-width="1.15" stroke-linejoin="round" stroke-linecap="butt"/>

</svg>
</body></html>
